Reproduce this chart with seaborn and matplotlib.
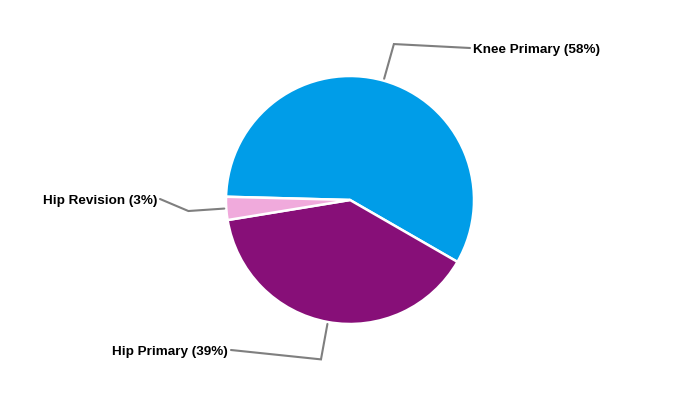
import matplotlib
matplotlib.use("Agg")
import matplotlib.pyplot as plt
import numpy as np
import seaborn as sns

# data
categories = ["Knee Primary", "Hip Primary", "Hip Revision"]
shares = [57.9, 39.1, 3.0]
colors = ["#009de8", "#870f78", "#f0aadc"]

# label text anchors in pixel coords (x, y from top), layout only
label_pos = [(473, 48), (228, 350), (157, 199)]
label_ha = ["left", "right", "right"]

sns.set_theme(style="white")
plt.rcParams["font.family"] = ["Liberation Sans", "DejaVu Sans"]

fig = plt.figure(figsize=(7, 4), dpi=100)
ax = fig.add_axes([0, 0, 1, 1])

cx, cy, r = 350, 200, 124
wedges, _ = ax.pie(shares, colors=colors, startangle=178.5, counterclock=False,
                   center=(cx, cy), radius=r, explode=[0, 0, 0.012],
                   wedgeprops=dict(edgecolor="white", linewidth=1.8))

# pie resets limits, so put the pixel frame back afterwards
ax.set_xlim(0, 700)
ax.set_ylim(0, 400)
ax.set_aspect("equal")
ax.axis("off")

for w, name, val, (lx, ly), ha in zip(wedges, categories, shares, label_pos, label_ha):
    mid = np.deg2rad((w.theta1 + w.theta2) / 2)
    x0, y0 = cx + 126 * np.cos(mid), cy + 126 * np.sin(mid)
    x1, y1 = cx + 162 * np.cos(mid), cy + 162 * np.sin(mid)
    ly = 400 - ly
    x2 = lx - 3 if ha == "left" else lx + 3
    ax.plot([x0, x1, x2], [y0, y1, ly], color="#7f7f7f", lw=1.5,
            solid_joinstyle="miter", clip_on=False)
    ax.text(lx, ly - 2, f"{name} ({val:.0f}%)", ha=ha, va="center",
            fontsize=9.7, fontweight="bold", color="black")

fig.savefig("out.png", dpi=100)
